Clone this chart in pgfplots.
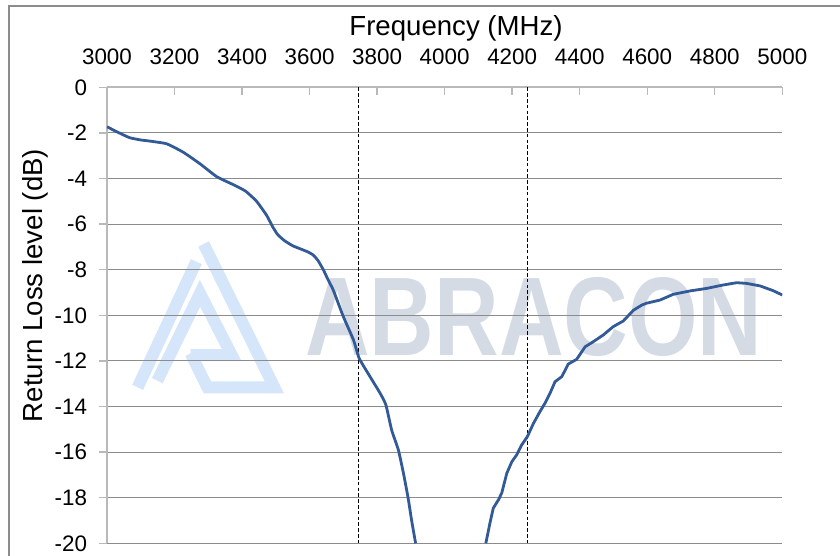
\documentclass[border=0pt]{standalone}
\usepackage{pgfplots}
\pgfplotsset{compat=1.18}
\usepackage{fontspec}
\setmainfont{Liberation Sans}
\definecolor{curve}{RGB}{50,90,150}
\definecolor{wmtext}{RGB}{213,219,229}
\definecolor{wmlogo}{RGB}{214,230,250}
\definecolor{gridc}{RGB}{140,140,140}
\definecolor{axc}{RGB}{185,185,185}
\begin{document}
\begin{tikzpicture}
\useasboundingbox (0pt,0pt) rectangle (420pt,-278pt);
% outer border of the image
\draw[gridc, line width=0.6pt] (4.5pt,-281pt) -- (4.5pt,-3pt) -- (425pt,-3pt);
% watermark
\begin{scope}[shift={(60pt,-115pt)}, x={(0.16667pt,0pt)}, y={(0pt,-0.16667pt)}]
\draw[wmlogo, line width=6pt, line join=miter] (53,472) -- (229,95);
\draw[wmlogo, line width=6pt, line join=miter] (251,42) -- (463,472) -- (262,472) -- (212,370);
\draw[wmlogo, line width=6pt, line join=miter] (112,452) -- (240,190) -- (335,375) -- (212,375);
\end{scope}
\node[wmtext, anchor=base west, inner sep=0pt, xscale=0.8, font=\fontsize{55.9}{60}\selectfont\bfseries] at (152.5pt,-177.5pt) {ABRACON};
\begin{axis}[
  at={(53.5pt,-43.65pt)}, anchor=north west,
  scale only axis, width=337.65pt, height=228pt,
  xmin=3000, xmax=5000, ymin=-20, ymax=0,
  axis x line=top, axis y line=left,
  axis line style={-, axc, line width=0.9pt},
  xtick={3000,3200,...,5000}, ytick={-20,-18,...,0},
  xtick align=inside, ytick align=outside,
  major tick length=3.8pt,
  tick style={axc, line width=0.7pt},
  ymajorgrids, grid style={gridc, line width=0.5pt},
  /pgf/number format/assume math mode=true,
  /pgf/number format/set thousands separator={},
  tick label style={font=\fontsize{11.2}{13}\selectfont, inner sep=0pt},
  xticklabel style={anchor=base, yshift=11.2pt},
  yticklabel style={anchor=east, xshift=-6pt},
  clip=true,
]
\addplot[black, line width=0.85pt, dash pattern=on 1.8pt off 1.1pt] coordinates {(3745,0) (3745,-20)};
\addplot[black, line width=0.85pt, dash pattern=on 1.8pt off 1.1pt] coordinates {(4245,0) (4245,-20)};
\addplot[curve, line width=1.4pt, smooth, tension=0.3] coordinates {
(3000,-1.73) (3029,-1.95) (3067,-2.21) (3100,-2.31) (3127,-2.36) (3177,-2.48) (3226,-2.85)
(3275,-3.35) (3325,-3.92) (3374,-4.27) (3410,-4.55) (3443,-5.00) (3473,-5.62)
(3490,-6.10) (3505,-6.45) (3525,-6.72) (3550,-6.95) (3575,-7.10) (3595,-7.22) (3611,-7.36) (3625,-7.60)
(3641,-8.01) (3655,-8.45) (3670,-8.89) (3700,-10.06) (3730,-11.08) (3747,-11.89)
(3779,-12.69) (3809,-13.42) (3826,-13.93) (3843,-15.03) (3863,-15.91) (3878,-16.93)
(3892,-18.03) (3902,-18.98) (3914,-20.0)
};
\addplot[curve, line width=1.4pt] coordinates {
(4122,-20.0) (4134,-19.12) (4144,-18.46) (4159,-18.10) (4169,-17.80) (4184,-16.93)
(4199,-16.42) (4213,-16.13) (4228,-15.69) (4245,-15.32) (4263,-14.74) (4282,-14.23)
(4297,-13.86) (4312,-13.42) (4327,-12.91) (4347,-12.69) (4366,-12.14) (4391,-11.93)
(4416,-11.38) (4440,-11.16) (4470,-10.86) (4499,-10.50) (4529,-10.25) (4559,-9.78)
(4584,-9.55) (4598,-9.47) (4638,-9.33) (4677,-9.08) (4727,-8.93) (4776,-8.82)
(4825,-8.67) (4865,-8.57) (4894,-8.60) (4934,-8.71) (4973,-8.92) (5000,-9.11)
};
\end{axis}
\node[anchor=base, inner sep=0pt, font=\fontsize{13.8}{16}\selectfont] at (228pt,-17.85pt) {Frequency (MHz)};
\node[anchor=base, rotate=90, inner sep=0pt, font=\fontsize{13.8}{16}\selectfont] at (21pt,-142.75pt) {Return Loss level (dB)};
\end{tikzpicture}
\end{document}
